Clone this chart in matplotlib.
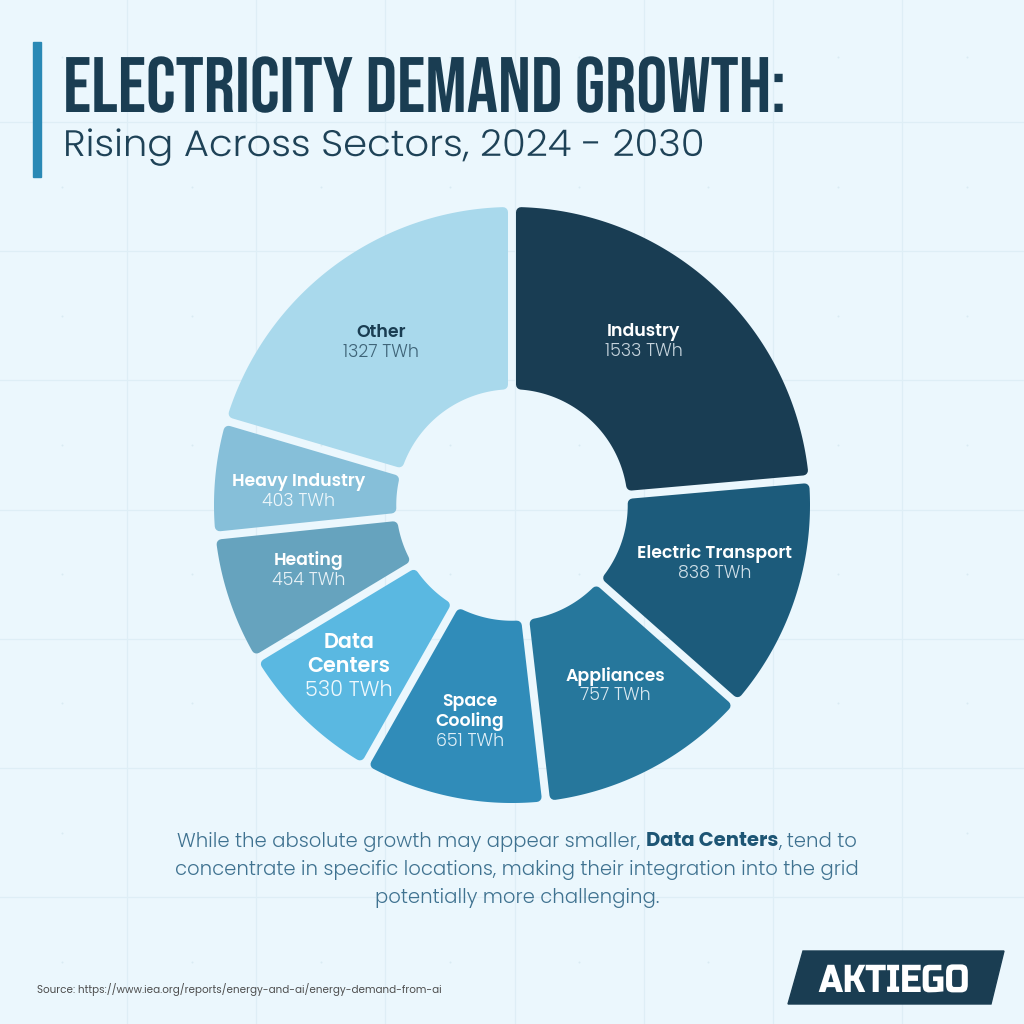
import matplotlib
matplotlib.use("Agg")
import numpy as np
import matplotlib.pyplot as plt
from matplotlib.patches import Polygon, Rectangle
from matplotlib.patheffects import AbstractPathEffect
from matplotlib.transforms import Affine2D

# data (TWh of added demand, 2024 -> 2030)
sectors = ["Industry", "Electric Transport", "Appliances", "Space Cooling",
           "Data Centers", "Heating", "Heavy Industry", "Other"]
sector_lines = ["Industry", "Electric Transport", "Appliances", "Space\nCooling",
                "Data\nCenters", "Heating", "Heavy Industry", "Other"]
demand_twh = [1533, 838, 757, 651, 530, 454, 403, 1327]
unit = "TWh"

title = "ELECTRICITY DEMAND GROWTH:"
subtitle = "Rising Across Sectors, 2024 - 2030"
note_lines = [
    [("While the absolute growth may appear smaller,", "light"),
     ("Data Centers", "bold"), (", tend to", "light")],
    [("concentrate in specific locations, making their integration into the grid", "light")],
    [("potentially more challenging.", "light")],
]
source = "Source: https://www.iea.org/reports/energy-and-ai/energy-demand-from-ai"
brand = "AKTIEGO"

# styling
BG = "#ebf7fd"
GRID = "#deeef6"
DARK = "#1a3d52"
BODY = "Poppins"
wedge_colors = ["#193d53", "#1c5b7b", "#26779c", "#308cb9",
                "#5ab8e1", "#66a3be", "#86bfd9", "#a9d9ec"]
name_colors = ["white"] * 7 + [DARK]
value_colors = ["#c5d3dc", "#cfdfe8", "#d8e8f0", "#e0eff7",
                "#eef8fd", "#e8f2f7", "#eef7fb", "#3f6478"]
label_sizes = [12.5, 12.5, 12.5, 12.5, 15, 12.5, 12.5, 12.5]
# small pixel nudges of each label block away from its mid-angle anchor
label_nudge = [(-11, -9), (2, -9), (6, -8), (0, 8), (-16, 8), (-3, -3), (-3, 4), (-4, 5)]


class Squeeze(AbstractPathEffect):
    """Scale text horizontally about its left edge (text stays a Text)."""

    def __init__(self, sx):
        super().__init__()
        self.sx = sx

    def draw_path(self, renderer, gc, tpath, affine, rgbFace=None):
        renderer.draw_path(gc, tpath, Affine2D().scale(self.sx, 1.0) + affine, rgbFace)


W = H = 1024
fig = plt.figure(figsize=(W / 100, H / 100), dpi=100, facecolor=BG)
renderer = fig.canvas.get_renderer()
bg = fig.add_axes([0, 0, 1, 1])
bg.set_xlim(0, W)
bg.set_ylim(H, 0)
bg.axis("off")


def width_of(t):
    return t.get_window_extent(renderer).width


def fit_width(t, target):
    t.set_path_effects([Squeeze(target / width_of(t))])


# background grid
step = 129.2
for x in np.arange(127 - step, W, step):
    bg.axvline(x, color=GRID, lw=0.9, zorder=0)
for y in np.arange(122 - step, H, step):
    bg.axhline(y, color=GRID, lw=0.9, zorder=0)
gx, gy = np.meshgrid(np.arange(127 - step / 2, W, step), np.arange(122 - step / 2, H, step))
bg.scatter(gx.ravel(), gy.ravel(), s=2, color="#d9ebf3", lw=0, zorder=0)

# title block
bg.add_patch(Rectangle((33, 42), 8, 135, color="#2a89b5", zorder=2))
t = bg.text(63, 112, title, family="Bebas Neue", fontsize=56.5, color=DARK,
            ha="left", va="baseline")
fit_width(t, 724)
t = bg.text(63, 156, subtitle, family=BODY, fontweight=300, fontsize=26.5,
            color="#1e4257", ha="left", va="baseline")
fit_width(t, 642)

# donut
R_PX, CX, CY = 302, 512, 505
pie_ax = fig.add_axes([(CX - R_PX) / W, (H - CY - R_PX) / H, 2 * R_PX / W, 2 * R_PX / H])
wedges, _ = pie_ax.pie(demand_twh, startangle=90, counterclock=False, radius=1.0,
                       wedgeprops=dict(width=0.63))
pie_ax.set_xlim(-1, 1)
pie_ax.set_ylim(-1, 1)
pie_ax.axis("off")

gap_px, corner_px = 4, 5
d = (gap_px + corner_px) / R_PX
for w, col in zip(wedges, wedge_colors):
    w.set_visible(False)
    ro, ri = w.r - d, w.r - w.width + d
    t1, t2 = np.radians(w.theta1), np.radians(w.theta2)
    ao, ai = np.arcsin(d / ro), np.arcsin(d / ri)
    a_out = np.linspace(t1 + ao, t2 - ao, 120)
    a_in = np.linspace(t2 - ai, t1 + ai, 60)
    verts = np.vstack([np.c_[ro * np.cos(a_out), ro * np.sin(a_out)],
                       np.c_[ri * np.cos(a_in), ri * np.sin(a_in)]])
    pie_ax.add_patch(Polygon(verts, closed=True, facecolor=col, edgecolor=col,
                             lw=2 * corner_px * 0.72, joinstyle="round"))

# segment labels (drawn in the donut axes so they sit above the wedges)
r_lab = 0.70
for w, name, val, nc, vc, fs, (nx, ny) in zip(wedges, sector_lines, demand_twh,
                                              name_colors, value_colors,
                                              label_sizes, label_nudge):
    mid = np.radians((w.theta1 + w.theta2) / 2)
    lx = CX + R_PX * r_lab * np.cos(mid) + nx
    ly = CY - R_PX * r_lab * np.sin(mid) + ny
    lines = [(s, 600, nc) for s in name.split("\n")] + [(f"{val} {unit}", 300, vc)]
    em = fs / 0.72
    spacing = 1.14 * em
    n = len(lines)
    for k, (s, wt, c) in enumerate(lines):
        yc = ly + (k - (n - 1) / 2) * spacing
        pie_ax.text(lx, yc + 0.35 * em, s, transform=bg.transData, family=BODY,
                    fontweight=wt, fontsize=fs, color=c, ha="center",
                    va="baseline", zorder=5)

# note paragraph
note_size = 14.1
note_y = [842, 870, 898]
probe1 = bg.text(0, 0, "x x", family=BODY, fontweight=300, fontsize=note_size)
probe2 = bg.text(0, 0, "xx", family=BODY, fontweight=300, fontsize=note_size)
space_w = width_of(probe1) - width_of(probe2)
probe1.remove()
probe2.remove()
for pieces, y in zip(note_lines, note_y):
    texts = []
    for s, kind in pieces:
        bold = kind == "bold"
        texts.append(bg.text(0, y, s, family=BODY, fontsize=note_size,
                             fontweight=700 if bold else 300,
                             color="#1d5574" if bold else "#3f7290",
                             ha="left", va="center"))
    gaps = [0.0] + [0.0 if s.startswith(",") else space_w for s, _ in pieces[1:]]
    widths = [width_of(tx) for tx in texts]
    x = 517 - (sum(widths) + sum(gaps)) / 2
    for tx, g, wd in zip(texts, gaps, widths):
        x += g
        tx.set_x(x)
        x += wd

# source + brand
bg.text(37, 989, source, family=BODY, fontsize=7.45, color="#4d4d4d",
        ha="left", va="center")
bg.add_patch(Polygon([(803, 951), (1004, 951), (991, 1004), (788, 1004)],
                     closed=True, color=DARK, zorder=2))
t = bg.text(819, 992, brand, family="Russo One", fontsize=28, color="white",
            ha="left", va="baseline", zorder=3)
fit_width(t, 150)

fig.savefig("out.png", dpi=100, facecolor=BG)
